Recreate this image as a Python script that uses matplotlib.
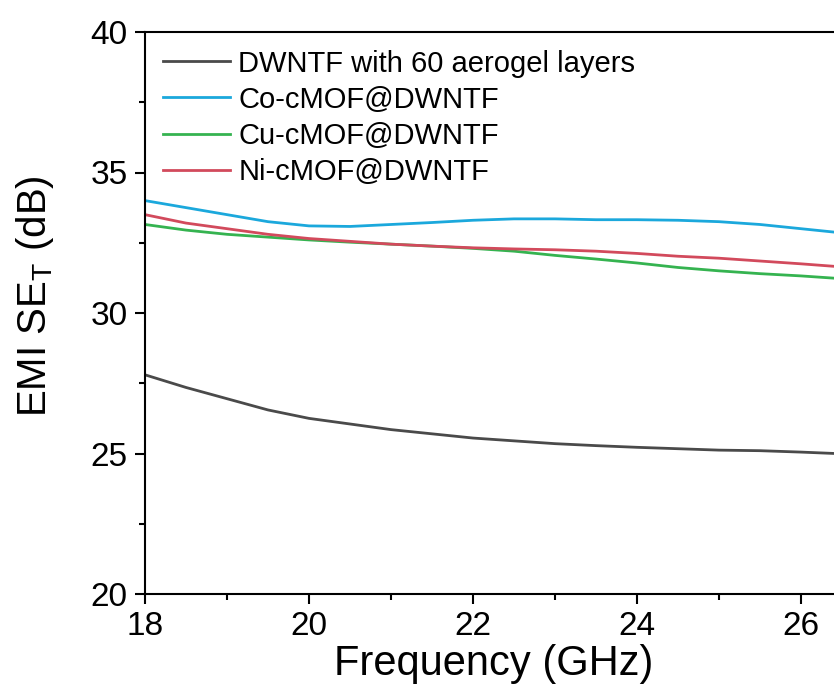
import matplotlib

matplotlib.use("Agg")
import matplotlib.pyplot as plt
from matplotlib.ticker import MultipleLocator

plt.rcParams["font.family"] = ["Liberation Sans", "DejaVu Sans"]
plt.rcParams["mathtext.fontset"] = "custom"
plt.rcParams["mathtext.rm"] = "Liberation Sans"
plt.rcParams["mathtext.it"] = "Liberation Sans:italic"

freq = [18.0, 18.5, 19.0, 19.5, 20.0, 20.5, 21.0, 21.5, 22.0, 22.5,
        23.0, 23.5, 24.0, 24.5, 25.0, 25.5, 26.0, 26.5]

dwntf_60 = [27.8, 27.35, 26.95, 26.55, 26.25, 26.05, 25.85, 25.7, 25.55, 25.45,
            25.35, 25.28, 25.22, 25.17, 25.12, 25.1, 25.05, 24.99]
co_cmof = [34.0, 33.75, 33.5, 33.25, 33.1, 33.08, 33.15, 33.22, 33.3, 33.35,
           33.35, 33.32, 33.32, 33.3, 33.25, 33.15, 33.0, 32.85]
cu_cmof = [33.15, 32.95, 32.8, 32.7, 32.6, 32.52, 32.45, 32.38, 32.3, 32.2,
           32.05, 31.92, 31.78, 31.62, 31.5, 31.4, 31.32, 31.22]
ni_cmof = [33.5, 33.2, 33.0, 32.8, 32.65, 32.55, 32.45, 32.38, 32.32, 32.28,
           32.25, 32.2, 32.12, 32.02, 31.95, 31.85, 31.75, 31.64]

series = [
    ("DWNTF with 60 aerogel layers", dwntf_60, "#4a4a4a"),
    ("Co-cMOF@DWNTF", co_cmof, "#1ba8dc"),
    ("Cu-cMOF@DWNTF", cu_cmof, "#35b350"),
    ("Ni-cMOF@DWNTF", ni_cmof, "#d24a5c"),
]

fig = plt.figure(figsize=(8.34, 7.0), dpi=100)
ax = fig.add_axes([145 / 834, 106 / 700, 697 / 834, 562 / 700])

for label, values, color in series:
    ax.plot(freq, values, color=color, linewidth=2.0, label=label)

ax.set_xlim(18, 26.5)
ax.set_ylim(20, 40)
ax.xaxis.set_major_locator(MultipleLocator(2))
ax.xaxis.set_minor_locator(MultipleLocator(1))
ax.yaxis.set_major_locator(MultipleLocator(5))
ax.yaxis.set_minor_locator(MultipleLocator(2.5))
ax.tick_params(which="both", direction="out", width=1.5, labelsize=24, pad=5,
               top=False, right=False)
ax.tick_params(which="major", length=7.5)
ax.tick_params(which="minor", length=4.5)
for side in ax.spines.values():
    side.set_linewidth(1.5)

ax.set_xlabel("Frequency (GHz)", fontsize=30, labelpad=1)
ax.set_ylabel(r"EMI SE$_\mathrm{T}$ (dB)", fontsize=29)
ax.yaxis.set_label_coords(-0.128, 0.53)

ax.legend(loc="upper left", frameon=False, fontsize=21, handlelength=2.3,
          handletextpad=0.3, labelspacing=0.28, borderaxespad=0.2)

fig.savefig("out.png", dpi=100)
plt.close(fig)
